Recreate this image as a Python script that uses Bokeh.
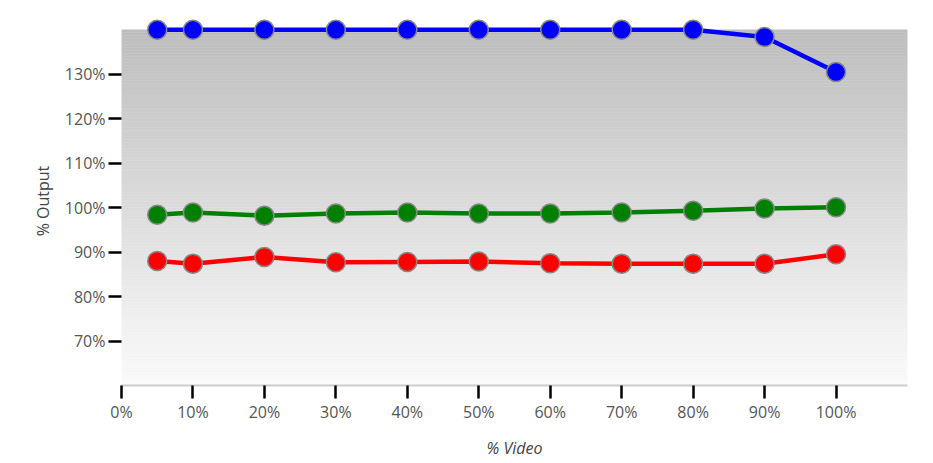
import numpy as np
from bokeh.plotting import figure
from bokeh.models import FixedTicker, Span
from bokeh.embed import file_html
from bokeh.resources import INLINE

# data (% of video vs % of output)
video_pct = [5, 10, 20, 30, 40, 50, 60, 70, 80, 90, 100]
blue_output = [140, 140, 140, 140, 140, 140, 140, 140, 140, 138.4, 130.5]
green_output = [98.4, 98.9, 98.2, 98.7, 98.9, 98.7, 98.7, 98.9, 99.3, 99.8, 100.1]
red_output = [88.0, 87.4, 88.9, 87.7, 87.8, 87.9, 87.5, 87.4, 87.4, 87.4, 89.5]

x_ticks = [0, 10, 20, 30, 40, 50, 60, 70, 80, 90, 100]
y_ticks = [70, 80, 90, 100, 110, 120, 130]
band_low, band_high = 60, 140

FONT = "Open Sans"

p = figure(width=925, height=463, x_range=(0, 110), y_range=(60, 143),
           output_backend="svg", toolbar_location=None,
           min_border_left=121, min_border_right=18,
           min_border_top=16, min_border_bottom=78)
p.outline_line_color = None
p.grid.visible = False
p.background_fill_color = "white"

# gray gradient background, dark at top, almost white at bottom
n = 120
edges = np.linspace(band_low, band_high, n + 1)
t = np.linspace(0, 1, n)
shade = (251 - (251 - 190) * t).astype(int)
colors = ["#%02x%02x%02x" % (s, s, s) for s in shade]
p.quad(left=0, right=110, bottom=edges[:-1], top=edges[1:],
       fill_color=colors, line_color=colors, line_width=0.5)

# white reference line at 100%
p.add_layout(Span(location=100, dimension="width", line_color="white",
                  line_width=5, level="underlay"))

for vals, col in [(blue_output, "#0000ff"), (green_output, "#008000"), (red_output, "#ff0000")]:
    p.line(video_pct, vals, line_color=col, line_width=4.5)
    p.scatter(video_pct, vals, size=19, fill_color=col,
              line_color="#888888", line_width=1.5)

p.xaxis.ticker = FixedTicker(ticks=x_ticks)
p.yaxis.ticker = FixedTicker(ticks=y_ticks)
p.xaxis.major_label_overrides = {v: f"{v}%" for v in x_ticks}
p.yaxis.major_label_overrides = {v: f"{v}%" for v in y_ticks}

p.xaxis.axis_line_color = "#cccccc"
p.xaxis.axis_line_width = 2
p.yaxis.axis_line_color = None
for ax in (p.xaxis, p.yaxis):
    ax.major_tick_line_color = "black"
    ax.major_tick_line_width = 2.5
    ax.major_tick_in = 0
    ax.minor_tick_line_color = None
    ax.major_label_text_font = FONT
    ax.major_label_text_font_size = "16px"
    ax.major_label_text_color = "#555555"
    ax.axis_label_text_font = FONT
    ax.axis_label_text_font_size = "16px"
    ax.axis_label_text_color = "#444444"

p.xaxis.major_tick_out = 13
p.yaxis.major_tick_out = 13
p.xaxis.major_label_standoff = 2
p.yaxis.major_label_standoff = 3

p.xaxis.axis_label = "% Video"
p.xaxis.axis_label_text_font_style = "italic"
p.xaxis.axis_label_standoff = 11
p.yaxis.axis_label = "% Output"
p.yaxis.axis_label_text_font_style = "normal"
p.yaxis.axis_label_standoff = 8

open("out.html", "w").write(file_html(p, INLINE))
